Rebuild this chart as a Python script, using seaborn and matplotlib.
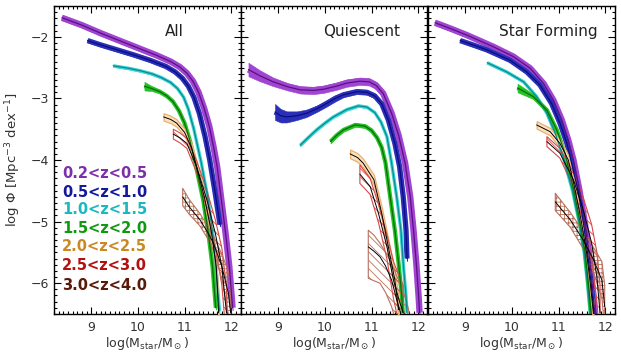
import numpy as np
import pandas as pd
import matplotlib
matplotlib.use("Agg")
import matplotlib.pyplot as plt
from matplotlib.ticker import MultipleLocator
import seaborn as sns

# ---------------- data ----------------
zbins = ["0.2<z<0.5", "0.5<z<1.0", "1.0<z<1.5", "1.5<z<2.0",
         "2.0<z<2.5", "2.5<z<3.0", "3.0<z<4.0"]
panel_titles = ["All", "Quiescent", "Star Forming"]
xticks = [9, 10, 11, 12]
yticks = [-6, -5, -4, -3, -2]

# --- All ---
all_x0 = [8.37, 8.8, 9.2, 9.6, 10.0, 10.4, 10.7, 10.9, 11.05, 11.18, 11.3, 11.42, 11.53, 11.62, 11.70, 11.79, 11.88, 11.96, 12.03]
all_y0 = [-1.69, -1.81, -1.94, -2.06, -2.18, -2.30, -2.40, -2.49, -2.59, -2.72, -2.90, -3.16, -3.45, -3.78, -4.11, -4.65, -5.19, -5.73, -6.40]
all_e0 = 0.04
all_x1 = [8.92, 9.2, 9.55, 9.9, 10.26, 10.6, 10.8, 10.95, 11.08, 11.2, 11.32, 11.44, 11.54, 11.66, 11.76]
all_y1 = [-2.06, -2.13, -2.21, -2.29, -2.38, -2.48, -2.57, -2.67, -2.80, -2.98, -3.25, -3.62, -4.00, -4.55, -5.05]
all_e1 = 0.03
all_x2 = [9.47, 9.8, 10.05, 10.3, 10.5, 10.7, 10.85, 10.98, 11.08, 11.2, 11.36, 11.50, 11.60, 11.67, 11.75]
all_y2 = [-2.47, -2.51, -2.55, -2.60, -2.66, -2.74, -2.84, -2.98, -3.17, -3.50, -4.05, -4.62, -5.17, -5.73, -6.45]
all_e2 = 0.02
all_x3 = [10.14, 10.3, 10.47, 10.62, 10.75, 10.88, 11.0, 11.12, 11.24, 11.40, 11.51, 11.60, 11.67]
all_y3 = [-2.80, -2.84, -2.89, -2.96, -3.05, -3.20, -3.40, -3.70, -4.08, -4.65, -5.19, -5.73, -6.40]
all_e3 = [0.07, 0.04, 0.03, 0.03, 0.03, 0.03, 0.03, 0.03, 0.03, 0.03, 0.03, 0.03, 0.03]
all_x4 = [10.55, 10.7, 10.83, 11.0, 11.15, 11.26, 11.44, 11.58, 11.68, 11.73]
all_y4 = [-3.30, -3.34, -3.40, -3.55, -3.80, -4.11, -4.65, -5.19, -5.73, -6.48]
all_e4 = [0.06, 0.06, 0.06, 0.06, 0.07, 0.08, 0.10, 0.12, 0.15, 0.18]
all_x5 = [10.76, 10.9, 11.05, 11.26, 11.48, 11.66, 11.80, 11.87, 11.90]
all_y5 = [-3.58, -3.64, -3.73, -4.11, -4.65, -5.19, -5.73, -6.27, -6.48]
all_e5 = [0.08, 0.08, 0.08, 0.10, 0.15, 0.22, 0.30, 0.40, 0.45]
all_x6 = [10.96, 11.1, 11.33, 11.5, 11.62, 11.8, 11.94, 11.99]
all_y6 = [-4.60, -4.76, -4.97, -5.18, -5.35, -5.73, -6.16, -6.48]
all_e6 = [0.14, 0.12, 0.10, 0.10, 0.12, 0.20, 0.35, 0.45]

# --- Quiescent ---
qui_x0 = [8.36, 8.6, 8.89, 9.2, 9.47, 9.75, 9.97, 10.25, 10.47, 10.75, 10.95, 11.1, 11.25, 11.43, 11.58, 11.72, 11.83, 11.90, 11.96, 12.01, 12.03]
qui_y0 = [-2.53, -2.63, -2.73, -2.81, -2.86, -2.87, -2.85, -2.80, -2.75, -2.72, -2.73, -2.79, -2.92, -3.24, -3.60, -4.05, -4.60, -5.14, -5.68, -6.22, -6.48]
qui_e0 = [0.11, 0.09, 0.07, 0.06, 0.06, 0.06, 0.06, 0.06, 0.06, 0.06, 0.06, 0.06, 0.06, 0.06, 0.06, 0.06, 0.06, 0.06, 0.06, 0.06, 0.06]
qui_x1 = [8.93, 9.05, 9.18, 9.4, 9.61, 9.85, 10.04, 10.22, 10.40, 10.68, 10.9, 11.07, 11.22, 11.36, 11.50, 11.60, 11.68, 11.74, 11.76]
qui_y1 = [-3.22, -3.28, -3.30, -3.28, -3.24, -3.16, -3.08, -3.00, -2.94, -2.89, -2.90, -2.96, -3.09, -3.35, -3.73, -4.10, -4.60, -5.14, -5.60]
qui_e1 = [0.13, 0.11, 0.09, 0.07, 0.06, 0.05, 0.05, 0.05, 0.04, 0.04, 0.04, 0.04, 0.04, 0.04, 0.04, 0.04, 0.04, 0.04, 0.04]
qui_x2 = [9.47, 9.65, 9.82, 10.0, 10.18, 10.47, 10.72, 10.9, 11.07, 11.2, 11.33, 11.43, 11.54, 11.63, 11.68, 11.74, 11.76]
qui_y2 = [-3.76, -3.63, -3.51, -3.40, -3.30, -3.18, -3.12, -3.14, -3.23, -3.38, -3.62, -4.05, -4.60, -5.14, -5.68, -6.22, -6.48]
qui_e2 = 0.02
qui_x3 = [10.12, 10.25, 10.40, 10.65, 10.86, 11.0, 11.12, 11.22, 11.30, 11.40, 11.50, 11.58, 11.65, 11.67]
qui_y3 = [-3.70, -3.60, -3.51, -3.43, -3.45, -3.52, -3.64, -3.80, -4.05, -4.60, -5.14, -5.68, -6.22, -6.48]
qui_e3 = 0.03
qui_x4 = [10.54, 10.7, 10.82, 11.05, 11.22, 11.36, 11.50, 11.58]
qui_y4 = [-3.90, -3.96, -4.05, -4.32, -4.87, -5.41, -5.95, -6.43]
qui_e4 = [0.07, 0.07, 0.07, 0.08, 0.10, 0.12, 0.15, 0.18]
qui_x5 = [10.75, 10.85, 10.97, 11.15, 11.33, 11.47, 11.60, 11.68]
qui_y5 = [-4.23, -4.32, -4.43, -4.87, -5.41, -5.95, -6.30, -6.48]
qui_e5 = [0.15, 0.14, 0.13, 0.15, 0.20, 0.30, 0.40, 0.45]
qui_x6 = [10.93, 11.05, 11.18, 11.30, 11.43, 11.55, 11.65, 11.75, 11.80]
qui_y6 = [-5.41, -5.48, -5.57, -5.72, -5.95, -6.30, -6.55, -6.80, -6.90]
qui_up6 = [-5.14, -5.22, -5.35, -5.50, -5.68, -5.90, -6.06, -6.30, -6.45]
qui_lo6 = [-5.92, -5.96, -6.00, -6.15, -6.38, -6.70, -6.90, -7.10, -7.20]

# --- Star forming ---
sf_x0 = [8.35, 8.7, 9.03, 9.3, 9.60, 10.03, 10.39, 10.68, 10.89, 11.07, 11.21, 11.32, 11.45, 11.56, 11.65, 11.72, 11.78]
sf_y0 = [-1.77, -1.87, -1.97, -2.06, -2.16, -2.32, -2.51, -2.76, -3.03, -3.35, -3.68, -4.00, -4.50, -5.00, -5.50, -6.00, -6.50]
sf_e0 = 0.04
sf_x1 = [8.89, 9.2, 9.46, 9.96, 10.32, 10.60, 10.85, 11.03, 11.18, 11.28, 11.42, 11.53, 11.62, 11.70, 11.76]
sf_y1 = [-2.06, -2.14, -2.21, -2.38, -2.57, -2.78, -3.08, -3.40, -3.73, -4.05, -4.50, -5.00, -5.50, -6.00, -6.50]
sf_e1 = 0.03
sf_x2 = [9.47, 9.89, 10.25, 10.53, 10.75, 10.93, 11.10, 11.30, 11.44, 11.55, 11.62, 11.68]
sf_y2 = [-2.42, -2.57, -2.73, -2.97, -3.24, -3.57, -3.95, -4.50, -5.00, -5.50, -6.00, -6.50]
sf_e2 = 0.02
sf_x3 = [10.12, 10.46, 10.75, 10.96, 11.14, 11.33, 11.46, 11.57, 11.64, 11.70]
sf_y3 = [-2.83, -2.97, -3.19, -3.51, -3.89, -4.50, -5.00, -5.50, -6.00, -6.50]
sf_e3 = [0.07, 0.04, 0.03, 0.03, 0.03, 0.03, 0.03, 0.03, 0.03, 0.03]
sf_x4 = [10.53, 10.82, 11.03, 11.21, 11.36, 11.49, 11.60, 11.68, 11.75]
sf_y4 = [-3.43, -3.54, -3.73, -4.00, -4.50, -5.00, -5.50, -6.00, -6.50]
sf_e4 = [0.06, 0.06, 0.07, 0.08, 0.10, 0.12, 0.15, 0.18, 0.20]
sf_x5 = [10.75, 11.03, 11.32, 11.53, 11.71, 11.82, 11.89]
sf_y5 = [-3.70, -3.89, -4.32, -4.81, -5.35, -5.89, -6.48]
sf_e5 = [0.08, 0.08, 0.12, 0.20, 0.30, 0.40, 0.45]
sf_x6 = [10.93, 11.25, 11.53, 11.75, 11.93, 11.99]
sf_y6 = [-4.68, -4.97, -5.30, -5.62, -5.95, -6.38]
sf_e6 = [0.14, 0.12, 0.14, 0.20, 0.30, 0.35]

# ---------------- styles ----------------
band_face = ["#a045d2", "#2a2fb8", "#38d6d6", "#22c322", "#fbe2bf", "none", "none"]
band_edge = ["#a045d2", "#2a2fb8", "#38d6d6", "#22c322", "#eab070", "#d94848", "#b8705c"]
thick_lw = [4.6, 3.8, 2.4, 3.0]
center_col = ["#5a1080", "#0c0c80", "#0a8a8f", "#0b6b0b", "black", "black", "black"]
legend_col = ["#7d2fa8", "#15189a", "#1cb8c0", "#0e9a0e", "#c98a25", "#b51010", "#5a1a0a"]

sns.set_style("ticks")
plt.rcParams["font.family"] = ["DejaVu Sans"]
plt.rcParams["mathtext.fontset"] = "dejavusans"
plt.rcParams["hatch.linewidth"] = 0.6

fig = plt.figure(figsize=(6.21, 3.58), dpi=100)
W = 186.5 / 621
lefts = [54 / 621, 241 / 621, 428 / 621]
axes = [fig.add_axes([l, 0.123, W, 0.860]) for l in lefts]

panels = [
    [(all_x0, all_y0, all_e0), (all_x1, all_y1, all_e1), (all_x2, all_y2, all_e2),
     (all_x3, all_y3, all_e3), (all_x4, all_y4, all_e4), (all_x5, all_y5, all_e5),
     (all_x6, all_y6, all_e6)],
    [(qui_x0, qui_y0, qui_e0), (qui_x1, qui_y1, qui_e1), (qui_x2, qui_y2, qui_e2),
     (qui_x3, qui_y3, qui_e3), (qui_x4, qui_y4, qui_e4), (qui_x5, qui_y5, qui_e5),
     (qui_x6, qui_y6, None)],
    [(sf_x0, sf_y0, sf_e0), (sf_x1, sf_y1, sf_e1), (sf_x2, sf_y2, sf_e2),
     (sf_x3, sf_y3, sf_e3), (sf_x4, sf_y4, sf_e4), (sf_x5, sf_y5, sf_e5),
     (sf_x6, sf_y6, sf_e6)],
]
hatches_hi = [[None, None, None, None, None, "\\\\\\\\", "++++"],
              [None, None, None, None, None, "\\\\\\\\", "\\\\\\\\"],
              [None, None, None, None, None, "\\\\\\\\", "++++"]]

for p, ax in enumerate(axes):
    for i, (x, y, e) in enumerate(panels[p]):
        x = np.asarray(x, float)
        y = np.asarray(y, float)
        if e is None:
            lo = np.asarray(qui_lo6)
            hi = np.asarray(qui_up6)
        else:
            e = np.broadcast_to(np.asarray(e, float), y.shape)
            lo, hi = y - e, y + e
        h = hatches_hi[p][i]
        df = pd.DataFrame({"x": x, "y": y})
        if i < 4:
            ax.fill_between(x, lo, hi, facecolor=band_face[i], edgecolor=band_face[i],
                            linewidth=0.4, zorder=2 + i * 0.1)
            sns.lineplot(data=df, x="x", y="y", ax=ax, color=band_face[i],
                         lw=thick_lw[i], sort=False, estimator=None,
                         solid_capstyle="butt", solid_joinstyle="round",
                         zorder=2 + i * 0.1)
            lw = 0.9
        elif i == 4:
            ax.fill_between(x, lo, hi, facecolor=band_face[i], edgecolor=band_edge[i],
                            linewidth=0.9, zorder=3)
            lw = 0.7
        else:
            ax.fill_between(x, lo, hi, facecolor="none", edgecolor=band_edge[i],
                            hatch=h, linewidth=0.8, zorder=3)
            lw = 0.7
        sns.lineplot(data=df, x="x", y="y", ax=ax, color=center_col[i], lw=lw,
                     sort=False, estimator=None, zorder=4)

    ax.set_xlim(8.2, 12.2)
    ax.set_ylim(-6.5, -1.5)
    ax.set_xticks(xticks)
    ax.set_yticks(yticks)
    ax.xaxis.set_minor_locator(MultipleLocator(0.1))
    ax.yaxis.set_minor_locator(MultipleLocator(0.1))
    ax.tick_params(which="both", direction="in", top=True, right=True,
                   color="black", width=0.8, labelsize=9, labelcolor="#333333")
    ax.tick_params(which="major", length=5)
    ax.tick_params(which="minor", length=2.5)
    ax.tick_params(axis="x", pad=5)
    for s in ax.spines.values():
        s.set_color("black")
        s.set_linewidth(1.0)
    ax.set_xlabel(r"log(M$_\mathrm{star}$/M$_\odot$)", fontsize=9, color="#333333", labelpad=0.5)
    ax.set_ylabel("")
    if p > 0:
        ax.set_yticklabels([])
    else:
        ax.set_yticklabels([f"\u2212{abs(t)}" for t in yticks])
    ax.text(0.645, 0.916, panel_titles[p], transform=ax.transAxes, ha="center",
            va="center", fontsize=11, color="#222222")

fig.text(13 / 621, 0.553, r"log $\Phi$ [Mpc$^{-3}$ dex$^{-1}$]", rotation=90,
         ha="center", va="center", fontsize=9.5, color="#333333")

ys = [0.455, 0.396, 0.338, 0.279, 0.218, 0.156, 0.094]
for i, lab in enumerate(zbins):
    axes[0].text(0.043, ys[i], lab, transform=axes[0].transAxes, ha="left",
                 va="center", fontsize=10.5, fontweight="bold", color=legend_col[i])

fig.savefig("out.png", dpi=100)
